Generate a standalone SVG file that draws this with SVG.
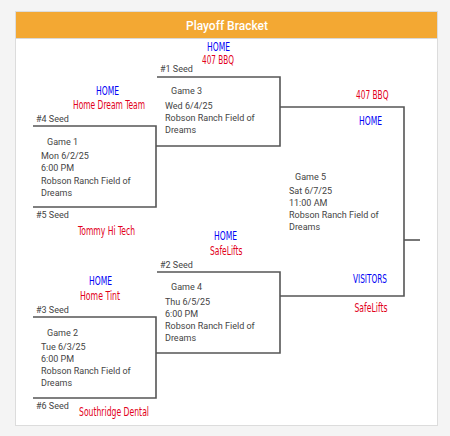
<svg xmlns="http://www.w3.org/2000/svg" width="450" height="436" viewBox="0 0 450 436">
<style>
.ln{fill:none;stroke:#555;stroke-width:1.6}
.t{font-family:Roboto,"Liberation Sans",sans-serif;font-size:9px;fill:#444}
.h,.r{font-family:"DejaVu Sans Condensed","DejaVu Sans",sans-serif;font-stretch:condensed;font-size:12.5px}
.h{fill:#0000f5}
.r{fill:#e2001a}
.ttl{font-family:Roboto,"Liberation Sans",sans-serif;font-size:12px;font-weight:500;fill:#fff}
</style>
<rect x="0" y="0" width="450" height="436" fill="#f4f4f4"/>
<rect x="15.5" y="11.5" width="422" height="414" fill="#fff" stroke="#dcdcdc"/>
<rect x="16" y="12" width="421" height="26" fill="#f3a833"/>
<line x1="16" y1="38.5" x2="437" y2="38.5" stroke="#d8d8d8"/>
<text class="ttl" x="227" y="29.5" text-anchor="middle">Playoff Bracket</text>

<g id="connectors">
<path class="ln" d="M33 126H156V207H33"/>
<path class="ln" d="M157 77H280V146H156"/>
<path class="ln" d="M33 317H156V398H33"/>
<path class="ln" d="M157 272H280V353H156"/>
<path class="ln" d="M280 107H404V296H280"/>
<path class="ln" d="M404 240H420"/>
</g>

<g id="game1">
<text class="h" transform="translate(96 95) scale(0.72 1)" textLength="31.9" lengthAdjust="spacingAndGlyphs">HOME</text>
<text class="r" transform="translate(73 109) scale(0.72 1)" textLength="100" lengthAdjust="spacingAndGlyphs">Home Dream Team</text>
<text class="t" x="36" y="122">#4 Seed</text>
<text class="t" x="47" y="144.5">Game 1</text>
<text class="t" x="41" y="159">Mon 6/2/25</text>
<text class="t" x="41" y="171">6:00 PM</text>
<text class="t" x="41" y="183.5">Robson Ranch Field of</text>
<text class="t" x="41" y="195.5">Dreams</text>
<text class="t" x="36" y="218">#5 Seed</text>
<text class="r" transform="translate(78 235) scale(0.72 1)" textLength="79.2" lengthAdjust="spacingAndGlyphs">Tommy Hi Tech</text>
</g>

<g id="game3">
<text class="h" transform="translate(207 50.5) scale(0.72 1)" textLength="31.9" lengthAdjust="spacingAndGlyphs">HOME</text>
<text class="r" transform="translate(202 64) scale(0.72 1)" textLength="44.4" lengthAdjust="spacingAndGlyphs">407 BBQ</text>
<text class="t" x="160" y="72">#1 Seed</text>
<text class="t" x="171" y="94">Game 3</text>
<text class="t" x="165" y="109">Wed 6/4/25</text>
<text class="t" x="165" y="121">Robson Ranch Field of</text>
<text class="t" x="165" y="133">Dreams</text>
</g>

<g id="game5">
<text class="r" transform="translate(356 99) scale(0.72 1)" textLength="45.1" lengthAdjust="spacingAndGlyphs">407 BBQ</text>
<text class="h" transform="translate(359 125) scale(0.72 1)" textLength="31.9" lengthAdjust="spacingAndGlyphs">HOME</text>
<text class="t" x="295" y="179.5">Game 5</text>
<text class="t" x="289" y="194">Sat 6/7/25</text>
<text class="t" x="289" y="206">11:00 AM</text>
<text class="t" x="289" y="218">Robson Ranch Field of</text>
<text class="t" x="289" y="230">Dreams</text>
<text class="h" transform="translate(353 283) scale(0.72 1)" textLength="47.2" lengthAdjust="spacingAndGlyphs">VISITORS</text>
<text class="r" transform="translate(354.5 312) scale(0.72 1)" textLength="45.8" lengthAdjust="spacingAndGlyphs">SafeLifts</text>
</g>

<g id="game4">
<text class="h" transform="translate(214 240) scale(0.72 1)" textLength="31.9" lengthAdjust="spacingAndGlyphs">HOME</text>
<text class="r" transform="translate(210 254.5) scale(0.72 1)" textLength="45.1" lengthAdjust="spacingAndGlyphs">SafeLifts</text>
<text class="t" x="160" y="267.5">#2 Seed</text>
<text class="t" x="171" y="290">Game 4</text>
<text class="t" x="165" y="305">Thu 6/5/25</text>
<text class="t" x="165" y="317">6:00 PM</text>
<text class="t" x="165" y="329">Robson Ranch Field of</text>
<text class="t" x="165" y="341">Dreams</text>
</g>

<g id="game2">
<text class="h" transform="translate(89 284.5) scale(0.72 1)" textLength="31.9" lengthAdjust="spacingAndGlyphs">HOME</text>
<text class="r" transform="translate(80 300) scale(0.72 1)" textLength="55.6" lengthAdjust="spacingAndGlyphs">Home Tint</text>
<text class="t" x="36" y="313">#3 Seed</text>
<text class="t" x="47" y="335.5">Game 2</text>
<text class="t" x="41" y="350">Tue 6/3/25</text>
<text class="t" x="41" y="362">6:00 PM</text>
<text class="t" x="41" y="374">Robson Ranch Field of</text>
<text class="t" x="41" y="386">Dreams</text>
<text class="t" x="36" y="409">#6 Seed</text>
<text class="r" transform="translate(79 416) scale(0.72 1)" textLength="97.2" lengthAdjust="spacingAndGlyphs">Southridge Dental</text>
</g>
</svg>
